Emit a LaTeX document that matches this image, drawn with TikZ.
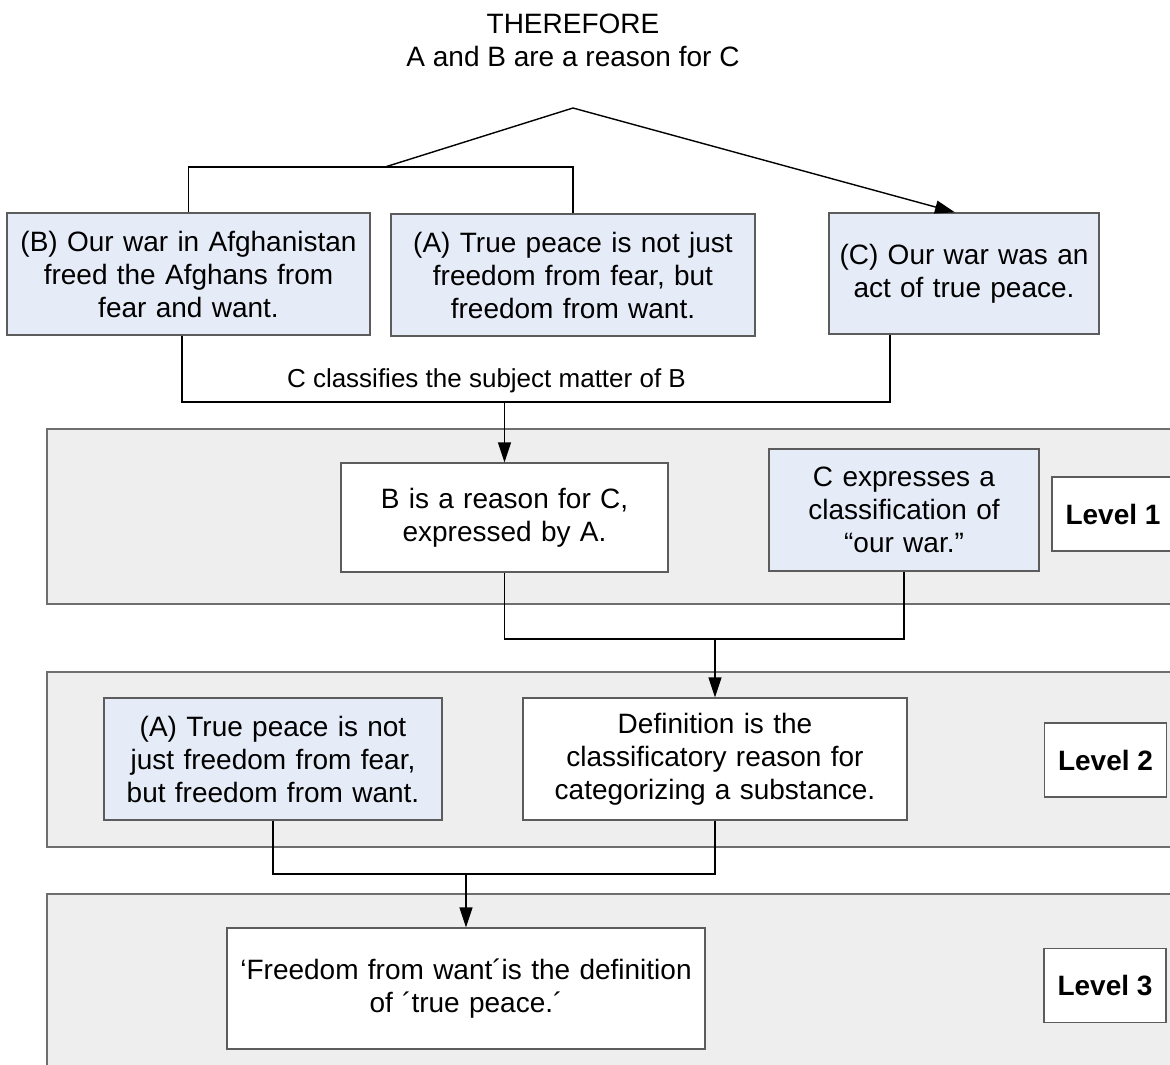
\documentclass[tikz,border=0pt]{standalone}
\usepackage{fontspec}
\setmainfont{Liberation Sans}
\usetikzlibrary{arrows.meta}

\definecolor{panelgray}{HTML}{EEEEEE}
\definecolor{panelline}{HTML}{6E6E6E}
\definecolor{boxline}{HTML}{5C5C5C}
\definecolor{boxblue}{HTML}{E6ECF7}
\newcommand{\boxfont}{\fontsize{28}{33}\selectfont}

\tikzset{
  textbox/.style={draw=boxline, line width=1.3pt, inner sep=0pt, align=center, font=\boxfont},
  bluebox/.style={textbox, fill=boxblue},
  whitebox/.style={textbox, fill=white},
  levelbox/.style={whitebox, minimum width=122pt, minimum height=74pt, font=\boxfont\bfseries},
  conn/.style={line width=1.4pt},
  arrow/.style={conn, -{Triangle[length=20pt,width=13pt]}}
}

\begin{document}
\begin{tikzpicture}[x=1pt,y=-1pt]
    \useasboundingbox (0,0) rectangle (1170,1065);
    % gray level panels
    \foreach \t/\b in {429/604, 672/847, 894/1080}{
      \draw [panelline, fill=panelgray, line width=1.3pt] (47,\t) rectangle (1185,\b);
       }

    \node [font=\boxfont, align=center] (therefore) at (573,40) {THEREFORE\\A and B are a reason for C};

    \node [bluebox, text width=363pt, minimum height=122pt] (bwar) at (188.5,274) {(B) Our war in Afghanistan\\freed the Afghans from\\fear and want.};
    \node [bluebox, text width=364pt, minimum height=122pt] (apeace) at (573,275) {(A) True peace is not just\\freedom from fear, but\\freedom from want.};
    \node [bluebox, text width=270pt, minimum height=121pt] (cwar) at (964,273.5) {(C) Our war was an\\act of true peace.};

    \node [whitebox, text width=327pt, minimum height=109pt] (reasonB) at (504.5,517.5) {B is a reason for C,\\expressed by A.};
    \node [bluebox, text width=270pt, minimum height=122pt] (cexp) at (904,510) {C expresses a\\classification of\\“our war.”};

    \node [bluebox, text width=338pt, minimum height=122pt] (apeace2) at (273,759) {(A) True peace is not\\just freedom from fear,\\but freedom from want.};
    \node [whitebox, text width=384pt, minimum height=122pt] (defn) at (715,759) {Definition is the\\classificatory reason for\\categorizing a substance.};

    \node [whitebox, text width=478pt, minimum height=121pt] (defbox) at (466,988.5) {‘Freedom from want´is the definition\\of ´true peace.´};

    \foreach \n/\x/\y in {1/1113/514, 2/1105.5/760, 3/1105/985.5}{
      \node [levelbox] (level\n) at (\x,\y) {Level \n};
       }

    % connectors
    \coordinate (apex) at (573,108);
    \coordinate (join) at (385,167);
    \draw [conn] (bwar.north) |- (apeace.north |- join) -- (apeace.north);
    \draw [conn] (join) -- (apex);
    \draw [arrow] (apex) -- ([xshift=-9pt]cwar.north);

    \coordinate (lowB) at (182,402);
    \coordinate (lowC) at (890,402);
    \draw [conn] (bwar.south -| lowB) -- (lowB) -- node [pos=.43, above=5pt, font=\fontsize{26}{30}\selectfont] {C classifies the subject matter of B} (lowC) -- (cwar.south -| lowC);
    \draw [arrow] (reasonB.north |- lowB) -- (reasonB.north);

    \coordinate (low1) at (0,639);
    \draw [conn] (reasonB.south) -- (reasonB.south |- low1) -| (cexp.south);
    \draw [arrow] (defn.north |- low1) -- (defn.north);

    \coordinate (low2) at (0,874);
    \draw [conn] (apeace2.south) -- (apeace2.south |- low2) -| (defn.south);
    \draw [arrow] (defbox.north |- low2) -- (defbox.north);

  \end{tikzpicture}
\end{document}
